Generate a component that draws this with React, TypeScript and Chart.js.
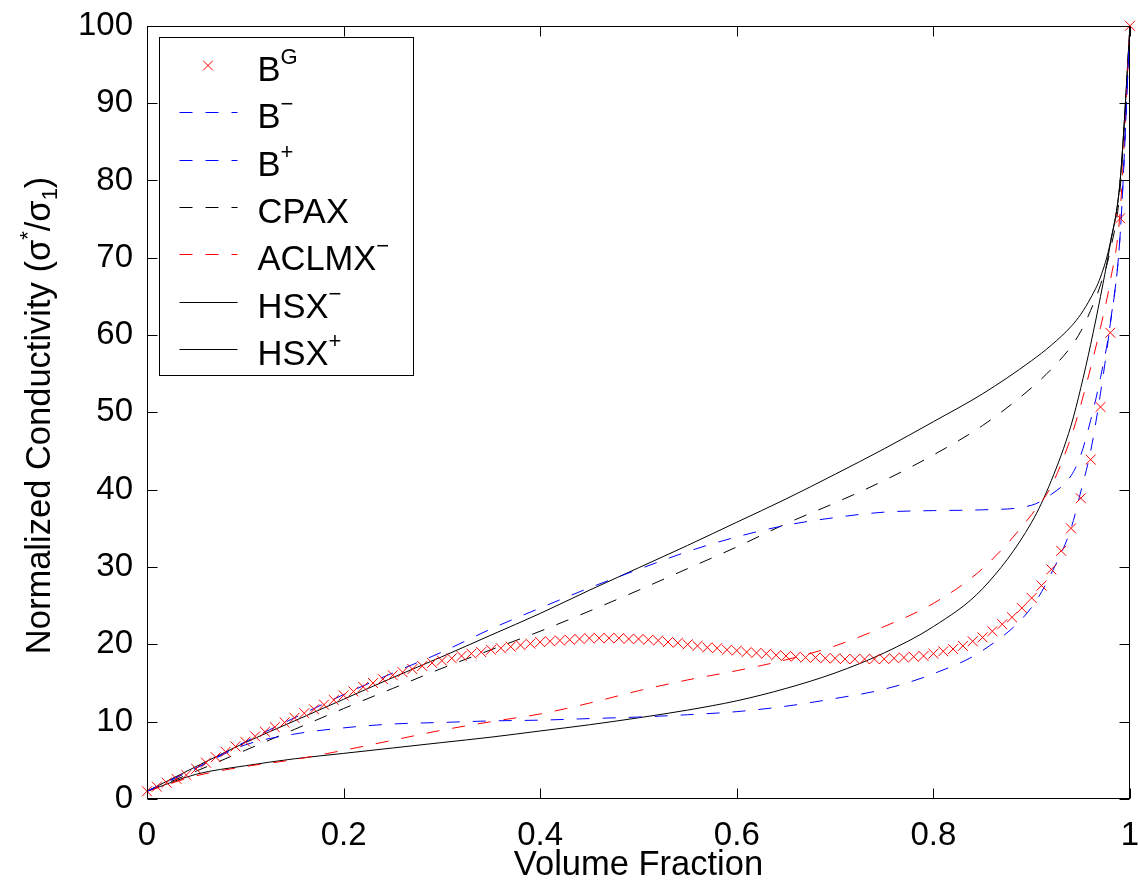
import React, { useEffect, useRef } from "react";
import { Chart, registerables } from "chart.js";

Chart.register(...registerables);

const FONT = '"Liberation Sans", Arial, Helvetica, sans-serif';

// sampled x positions (volume fraction) of the bound curves
const curveX = [0, 0.05, 0.1, 0.15, 0.2, 0.25, 0.3, 0.35, 0.4, 0.45, 0.5, 0.55, 0.6, 0.65, 0.7, 0.75, 0.8, 0.85, 0.9, 0.92, 0.94, 0.95, 0.96, 0.97, 0.98, 0.99, 1];
const bMinus = [1, 4.0, 7.0, 8.4, 9.2, 9.7, 9.9, 10.1, 10.2, 10.4, 10.6, 10.9, 11.3, 12.0, 13.0, 14.2, 16.2, 19.2, 24.8, 29.2, 35.0, 39.8, 45, 52.5, 61.5, 73, 100];
const bPlus = [1, 4.0, 7.4, 10.5, 13.5, 16.3, 19.0, 22.0, 24.7, 27.3, 29.7, 32.0, 33.9, 35.4, 36.4, 37.1, 37.3, 37.4, 38.0, 39.4, 41.8, 44.5, 49, 54.5, 61.5, 73, 100];
const cpax = [1, 3.6, 6.3, 9.0, 11.7, 14.3, 16.9, 19.3, 21.7, 24.3, 27.0, 29.8, 32.6, 35.6, 38.3, 41.2, 44.5, 48.3, 53.2, 55.6, 58.5, 60.5, 63.2, 66.5, 71, 79, 100];
const aclmxMinus = [1, 3.0, 4.2, 5.1, 6.3, 7.6, 8.9, 10.0, 11.0, 12.4, 14.0, 15.4, 16.6, 18.0, 19.8, 22.3, 25.3, 29.8, 36.8, 40.5, 46.8, 51, 55.8, 61, 67, 76, 100];
const hsxMinus = [1, 3.2, 4.3, 5.2, 5.9, 6.6, 7.3, 8.0, 8.8, 9.6, 10.5, 11.5, 12.7, 14.3, 16.3, 18.9, 22.3, 27.2, 35.8, 41.2, 48.3, 53.2, 58.8, 65.0, 71.8, 80.0, 100];
const hsxPlus = [1, 4.2, 7.3, 10.1, 12.9, 15.7, 18.4, 21.2, 24.0, 27.0, 29.9, 32.8, 35.8, 38.8, 42.0, 45.3, 48.8, 52.4, 56.7, 58.7, 61.1, 62.7, 64.8, 67.5, 72.0, 80.0, 100];

// B^G markers
const bgX = [
  0, 0.01, 0.02, 0.03, 0.04, 0.05, 0.06, 0.07, 0.08, 0.09,
  0.1, 0.11, 0.12, 0.13, 0.14, 0.15, 0.16, 0.17, 0.18, 0.19,
  0.2, 0.21, 0.22, 0.23, 0.24, 0.25, 0.26, 0.27, 0.28, 0.29,
  0.3, 0.31, 0.32, 0.33, 0.34, 0.35, 0.36, 0.37, 0.38, 0.39,
  0.4, 0.41, 0.42, 0.43, 0.44, 0.45, 0.46, 0.47, 0.48, 0.49,
  0.5, 0.51, 0.52, 0.53, 0.54, 0.55, 0.56, 0.57, 0.58, 0.59,
  0.6, 0.61, 0.62, 0.63, 0.64, 0.65, 0.66, 0.67, 0.68, 0.69,
  0.7, 0.71, 0.72, 0.73, 0.74, 0.75, 0.76, 0.77, 0.78, 0.79,
  0.8, 0.81, 0.82, 0.83, 0.84, 0.85, 0.86, 0.87, 0.88, 0.89,
  0.9, 0.91, 0.92, 0.93, 0.94, 0.95, 0.96, 0.97, 0.98, 0.99,
  1,
];
const bgY = [
  1.0, 1.6, 2.1, 2.6, 3.1, 3.9, 4.7, 5.4, 6.1, 6.8,
  7.4, 8.1, 8.7, 9.3, 9.9, 10.5, 11.1, 11.6, 12.2, 12.8,
  13.4, 13.9, 14.5, 15.0, 15.5, 16.0, 16.4, 16.8, 17.2, 17.6,
  17.9, 18.2, 18.5, 18.8, 19.0, 19.3, 19.5, 19.7, 19.9, 20.1,
  20.3, 20.4, 20.5, 20.6, 20.7, 20.8, 20.8, 20.8, 20.8, 20.7,
  20.7, 20.6, 20.5, 20.3, 20.2, 20.0, 19.8, 19.6, 19.5, 19.3,
  19.2, 19.0, 18.9, 18.8, 18.6, 18.5, 18.4, 18.3, 18.3, 18.2,
  18.2, 18.1, 18.1, 18.1, 18.1, 18.1, 18.2, 18.3, 18.4, 18.5,
  18.8, 19.1, 19.4, 19.8, 20.4, 20.9, 21.7, 22.6, 23.5, 24.7,
  26.0, 27.6, 29.7, 32.1, 35.0, 38.9, 43.9, 50.7, 60.3, 75.1,
  100,
];

const xTickLabels = ["0", "0.2", "0.4", "0.6", "0.8", "1"];
const yTickLabels = ["0", "10", "20", "30", "40", "50", "60", "70", "80", "90", "100"];

const seriesLabels = ["B", "B", "B", "CPAX", "ACLMX", "HSX", "HSX"];
const seriesSup = ["G", "\u2212", "+", "", "\u2212", "\u2212", "+"];

const xTitle = "Volume Fraction";

// styles (index-aligned with series)
const seriesColors = ["#ff0000", "#0000ff", "#0000ff", "#000000", "#ff0000", "#000000", "#000000"];
const DASH = [13, 13];
const seriesDash: number[][] = [[], DASH, DASH, DASH, DASH, [], []];

const toPoints = (xs: number[], ys: number[]) => xs.map((x, i) => ({ x, y: ys[i] }));

function drawCross(ctx: CanvasRenderingContext2D, cx: number, cy: number, r: number) {
  ctx.beginPath();
  ctx.moveTo(cx - r, cy - r);
  ctx.lineTo(cx + r, cy + r);
  ctx.moveTo(cx - r, cy + r);
  ctx.lineTo(cx + r, cy - r);
  ctx.stroke();
}

type Part = { text: string; size: number; dy: number };

function drawRich(ctx: CanvasRenderingContext2D, parts: Part[], x: number, y: number, align: "left" | "center") {
  let total = 0;
  const widths = parts.map((p) => {
    ctx.font = `${p.size}px ${FONT}`;
    const w = ctx.measureText(p.text).width;
    total += w;
    return w;
  });
  let cx = align === "center" ? x - total / 2 : x;
  parts.forEach((p, i) => {
    ctx.font = `${p.size}px ${FONT}`;
    ctx.fillText(p.text, cx, y + p.dy);
    cx += widths[i];
  });
}

const framePlugin = {
  id: "matlabFrame",
  afterDatasetsDraw(chart: any) {
    const { ctx, chartArea: a, scales } = chart;
    const xs = scales.x;
    const ys = scales.y;
    const l = Math.round(a.left) + 0.5;
    const r = Math.round(a.right) - 0.5;
    const t = Math.round(a.top) + 0.5;
    const b = Math.round(a.bottom) - 0.5;
    ctx.save();
    ctx.strokeStyle = "#000";
    ctx.lineWidth = 1;
    ctx.setLineDash([]);
    ctx.beginPath();
    const tl = 10;
    xs.ticks.forEach((tk: any) => {
      const px = Math.round(xs.getPixelForValue(tk.value)) + 0.5;
      ctx.moveTo(px, b);
      ctx.lineTo(px, b - tl);
      ctx.moveTo(px, t);
      ctx.lineTo(px, t + tl);
    });
    ys.ticks.forEach((tk: any) => {
      const py = Math.round(ys.getPixelForValue(tk.value)) + 0.5;
      ctx.moveTo(l, py);
      ctx.lineTo(l + tl, py);
      ctx.moveTo(r, py);
      ctx.lineTo(r - tl, py);
    });
    ctx.stroke();
    ctx.strokeRect(l, t, r - l, b - t);
    ctx.restore();
  },
};

const textPlugin = {
  id: "matlabText",
  afterDraw(chart: any) {
    const { ctx, chartArea: a } = chart;
    ctx.save();
    ctx.fillStyle = "#000";
    ctx.textBaseline = "alphabetic";
    ctx.textAlign = "left";

    // x title
    drawRich(ctx, [{ text: xTitle, size: 34.5, dy: 0 }], (a.left + a.right) / 2, a.bottom + 76, "center");

    // y title (rotated)
    ctx.save();
    ctx.translate(50, (a.top + a.bottom) / 2 + 3);
    ctx.rotate(-Math.PI / 2);
    drawRich(
      ctx,
      [
        { text: "Normalized Conductivity (\u03c3", size: 34.5, dy: 0 },
        { text: "*", size: 22, dy: -15 },
        { text: "/\u03c3", size: 34.5, dy: 0 },
        { text: "1", size: 22, dy: 7 },
        { text: ")", size: 34.5, dy: 0 },
      ],
      0,
      0,
      "center"
    );
    ctx.restore();

    // legend
    const left = Math.round(a.left) + 12 + 0.5;
    const top = Math.round(a.top) + 11 + 0.5;
    const w = 254;
    const h = 338;
    ctx.fillStyle = "#fff";
    ctx.fillRect(left, top, w, h);
    ctx.strokeStyle = "#000";
    ctx.lineWidth = 1;
    ctx.setLineDash([]);
    ctx.strokeRect(left, top, w, h);

    for (let i = 0; i < seriesLabels.length; i++) {
      const rowY = Math.round(top + 27.5 + i * 47.3) + 0.5;
      ctx.strokeStyle = seriesColors[i];
      ctx.lineWidth = 1;
      if (i === 0) {
        ctx.setLineDash([]);
        drawCross(ctx, left + 48.5, rowY, 4.7);
      } else {
        ctx.setLineDash(seriesDash[i]);
        ctx.beginPath();
        ctx.moveTo(left + 20, rowY);
        ctx.lineTo(left + 78, rowY);
        ctx.stroke();
      }
      ctx.setLineDash([]);
      ctx.fillStyle = "#000";
      const parts: Part[] = [{ text: seriesLabels[i], size: 34.5, dy: 0 }];
      if (seriesSup[i]) parts.push({ text: seriesSup[i], size: 22, dy: -17 });
      drawRich(ctx, parts, left + 98, rowY + 15.5, "left");
    }
    ctx.restore();
  },
};

export default function App() {
  const ref = useRef<HTMLCanvasElement | null>(null);

  useEffect(() => {
    const canvas = ref.current;
    if (!canvas) return;
    const lineDs = (ys: number[], idx: number) => ({
      label: seriesLabels[idx] + seriesSup[idx],
      data: toPoints(curveX, ys),
      showLine: true,
      borderColor: seriesColors[idx],
      backgroundColor: seriesColors[idx],
      borderWidth: 1,
      borderDash: seriesDash[idx],
      pointRadius: 0,
      cubicInterpolationMode: "monotone" as const,
      fill: false,
    });
    const chart = new Chart(canvas, {
      type: "scatter",
      data: {
        datasets: [
          {
            label: seriesLabels[0] + seriesSup[0],
            data: toPoints(bgX, bgY),
            showLine: false,
            borderColor: seriesColors[0],
            backgroundColor: seriesColors[0],
            pointStyle: "crossRot",
            pointRadius: 7,
            pointBorderWidth: 1,
            clip: false,
          } as any,
          lineDs(bMinus, 1),
          lineDs(bPlus, 2),
          lineDs(cpax, 3),
          lineDs(aclmxMinus, 4),
          lineDs(hsxMinus, 5),
          lineDs(hsxPlus, 6),
        ],
      },
      options: {
        responsive: false,
        animation: false,
        events: [],
        layout: { padding: { top: 24, right: 7, left: 0, bottom: 0 } },
        plugins: {
          legend: { display: false },
          tooltip: { enabled: false },
          title: { display: false },
        },
        scales: {
          x: {
            type: "linear",
            min: 0,
            max: 1,
            afterFit: (s: any) => {
              s.height = 85;
              s.paddingLeft = 0;
              s.paddingRight = 0;
            },
            ticks: {
              stepSize: 0.2,
              padding: 9,
              color: "#000",
              maxRotation: 0,
              autoSkip: false,
              font: { family: FONT, size: 33 },
              callback: (_v: any, i: number) => xTickLabels[i],
            },
            grid: { display: false },
            border: { display: false },
          },
          y: {
            type: "linear",
            min: 0,
            max: 100,
            afterFit: (s: any) => {
              s.width = 147;
            },
            ticks: {
              stepSize: 10,
              padding: 6,
              color: "#000",
              autoSkip: false,
              font: { family: FONT, size: 33 },
              callback: (_v: any, i: number) => yTickLabels[i],
            },
            grid: { display: false },
            border: { display: false },
          },
        },
      } as any,
      plugins: [framePlugin, textPlugin],
    });
    return () => chart.destroy();
  }, []);

  return (
    <div style={{ position: "fixed", left: 0, top: 0, width: 1138, height: 884, background: "#fff", overflow: "hidden" }}>
      <canvas ref={ref} width={1138} height={884} style={{ display: "block" }} />
    </div>
  );
}
